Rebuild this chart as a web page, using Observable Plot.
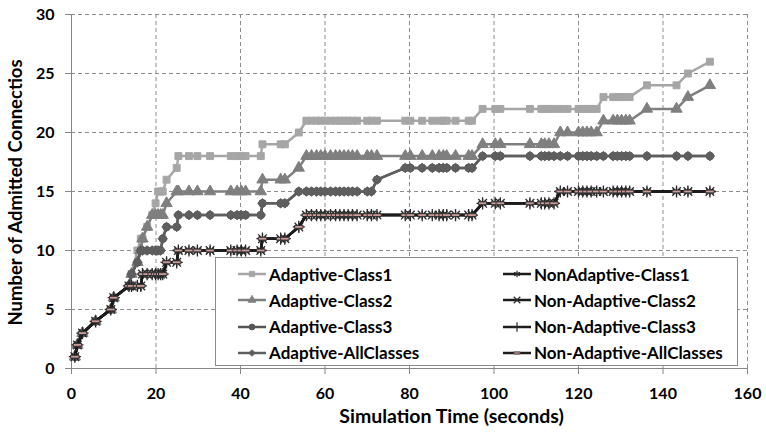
<!DOCTYPE html>
<html><head><meta charset="utf-8">
<script src="https://cdn.jsdelivr.net/npm/d3@7"></script>
<script src="https://cdn.jsdelivr.net/npm/@observablehq/plot@0.6"></script>
<style>
body{margin:0;background:#fff;}
#wrap{position:relative;width:766px;height:437px;font-family:Lato,"Open Sans",sans-serif;}
#legend{position:absolute;left:215px;top:257px;width:523px;height:109px;border:1px solid #8c8c8c;background:#fff;box-sizing:border-box;}
.item{position:absolute;display:flex;align-items:center;height:20px;font-weight:bold;font-size:17px;color:#000;white-space:nowrap;}
.item svg{margin-right:3px;}
</style></head><body><div id="wrap"></div>
<script>
const times = [0.8,1.4,2.6,5.7,9.3,10,13.6,14.2,15.6,16.4,16.8,17.9,19.1,19.9,20.5,21.1,21.6,22.5,24.9,25.3,
  27.8,29.8,32.8,37.7,39.2,40.2,41.2,44.8,45.2,49.5,50.5,53.8,55.6,56.8,58,59,60,61.3,62.5,63.5,64.5,65.5,66.5,67.6,
  70,71,72.3,79,80.2,83,85.4,87,88,88.8,90.9,94,94.8,97.3,100.3,101.5,108.5,111.2,112,113,114.2,115.7,117.4,
  120,121,122,123,124.3,125.9,128.2,129.2,130.2,131.2,132.1,136.2,143.2,145.9,151.1];

const adaptiveClass1 = [1,2,3,4,5,6,7,8,10,11,11,12,13,14,15,15,15,16,17,18,
  18,18,18,18,18,18,18,18,19,19,19,20,21,21,21,21,21,21,21,21,21,21,21,21,
  21,21,21,21,21,21,21,21,21,21,21,21,21,22,22,22,22,22,22,22,22,22,22,
  22,22,22,22,22,23,23,23,23,23,23,24,24,25,26];
const adaptiveClass2 = [1,2,3,4,5,6,7,8,9,10,11,12,13,13,13,13,13,14,15,15,
  15,15,15,15,15,15,15,15,16,16,16,17,18,18,18,18,18,18,18,18,18,18,18,18,
  18,18,18,18,18,18,18,18,18,18,18,18,18,19,19,19,19,19,19,19,19,20,20,
  20,20,20,20,20,21,21,21,21,21,21,22,22,23,24];
const adaptiveClass3 = [1,2,3,4,5,6,7,8,9,10,10,10,10,10,10,10,11,12,12,13,
  13,13,13,13,13,13,13,13,14,14,14,15,15,15,15,15,15,15,15,15,15,15,15,15,
  15,15,16,17,17,17,17,17,17,17,17,17,17,18,18,18,18,18,18,18,18,18,18,
  18,18,18,18,18,18,18,18,18,18,18,18,18,18,18];
const adaptiveAllClasses = [1,2,3,4,5,6,7,8,9,10,10,10,10,10,10,10,11,12,12,13,
  13,13,13,13,13,13,13,13,14,14,14,15,15,15,15,15,15,15,15,15,15,15,15,15,
  15,15,16,17,17,17,17,17,17,17,17,17,17,18,18,18,18,18,18,18,18,18,18,
  18,18,18,18,18,18,18,18,18,18,18,18,18,18,18];
const nonAdaptiveClass1 = [1,2,3,4,5,6,7,7,7,7,8,8,8,8,8,8,8,9,9,10,
  10,10,10,10,10,10,10,10,11,11,11,12,13,13,13,13,13,13,13,13,13,13,13,13,
  13,13,13,13,13,13,13,13,13,13,13,13,13,14,14,14,14,14,14,14,14,15,15,
  15,15,15,15,15,15,15,15,15,15,15,15,15,15,15];
const nonAdaptiveClass2 = [1,2,3,4,5,6,7,7,7,7,8,8,8,8,8,8,8,9,9,10,
  10,10,10,10,10,10,10,10,11,11,11,12,13,13,13,13,13,13,13,13,13,13,13,13,
  13,13,13,13,13,13,13,13,13,13,13,13,13,14,14,14,14,14,14,14,14,15,15,
  15,15,15,15,15,15,15,15,15,15,15,15,15,15,15];
const nonAdaptiveClass3 = [1,2,3,4,5,6,7,7,7,7,8,8,8,8,8,8,8,9,9,10,
  10,10,10,10,10,10,10,10,11,11,11,12,13,13,13,13,13,13,13,13,13,13,13,13,
  13,13,13,13,13,13,13,13,13,13,13,13,13,14,14,14,14,14,14,14,14,15,15,
  15,15,15,15,15,15,15,15,15,15,15,15,15,15,15];
const nonAdaptiveAllClasses = [1,2,3,4,5,6,7,7,7,7,8,8,8,8,8,8,8,9,9,10,
  10,10,10,10,10,10,10,10,11,11,11,12,13,13,13,13,13,13,13,13,13,13,13,13,
  13,13,13,13,13,13,13,13,13,13,13,13,13,14,14,14,14,14,14,14,14,15,15,
  15,15,15,15,15,15,15,15,15,15,15,15,15,15,15];

const seriesNames = ["Adaptive-Class1","Adaptive-Class2","Adaptive-Class3","Adaptive-AllClasses",
  "NonAdaptive-Class1","Non-Adaptive-Class2","Non-Adaptive-Class3","Non-Adaptive-AllClasses"];
const seriesValues = [adaptiveClass1, adaptiveClass2, adaptiveClass3, adaptiveAllClasses,
  nonAdaptiveClass1, nonAdaptiveClass2, nonAdaptiveClass3, nonAdaptiveAllClasses];
const xTicks = [0,20,40,60,80,100,120,140,160];
const yTicks = [0,5,10,15,20,25,30];
const xLabel = "Simulation Time (seconds)";
const yLabel = "Number of Admitted Connectios";

const dashSymbol = {draw(ctx, size){ const s = Math.sqrt(size); const w = s*0.6, h = s*0.2;
  ctx.moveTo(-w,-h); ctx.lineTo(w,-h); ctx.lineTo(w,h); ctx.lineTo(-w,h); ctx.closePath(); }};

const styles = [
  {line:"#a6a6a6", symbol:"square", fill:"#a6a6a6", mstroke:"#a6a6a6", r:3.9, d3sym:d3.symbolSquare},
  {line:"#7f7f7f", symbol:"triangle", fill:"#7f7f7f", mstroke:"#7f7f7f", r:4.2, d3sym:d3.symbolTriangle},
  {line:"#555555", symbol:"circle", fill:"#555555", mstroke:"#555555", r:3.8, d3sym:d3.symbolCircle},
  {line:"#5e5e5e", symbol:"diamond2", fill:"#5e5e5e", mstroke:"#5e5e5e", r:4.3, d3sym:d3.symbolDiamond2},
  {line:"#1c1c1c", symbol:"asterisk", fill:"none", mstroke:"#2a2a2a", r:4, d3sym:d3.symbolAsterisk},
  {line:"#1c1c1c", symbol:"times", fill:"none", mstroke:"#2a2a2a", r:4, d3sym:d3.symbolTimes},
  {line:"#1c1c1c", symbol:"plus", fill:"none", mstroke:"#2a2a2a", r:4, d3sym:d3.symbolPlus},
  {line:"#1c1c1c", symbol:dashSymbol, fill:"#c99a96", mstroke:"#333333", r:4, d3sym:dashSymbol}
];

const marks = [
  Plot.gridY(yTicks.filter(d => d > 0), {stroke:"#8c8c8c", strokeOpacity:1, strokeDasharray:"4,3"}),
  Plot.gridX(xTicks.filter(d => d > 0), {stroke:"#8c8c8c", strokeOpacity:1, strokeDasharray:"4,3"}),
  Plot.ruleY([0], {stroke:"#868686"}),
  Plot.ruleX([0], {stroke:"#868686"})
];
seriesNames.forEach((name, i) => {
  const rows = times.map((t, j) => ({t, v: seriesValues[i][j], series: name}));
  const s = styles[i];
  marks.push(Plot.line(rows, {x:"t", y:"v", stroke:s.line, strokeWidth:2.5}));
  marks.push(Plot.dot(rows, {x:"t", y:"v", symbol:s.symbol, fill:s.fill, stroke:s.mstroke, strokeWidth: s.fill === "none" ? 1.3 : 1, r:s.r}));
});
marks.push(
  Plot.axisX({ticks:xTicks, tickSize:6, tickPadding:13, label:null, stroke:"#868686"}),
  Plot.axisY({ticks:yTicks, tickSize:6, tickPadding:11, label:null, stroke:"#868686"}),
  Plot.text([xLabel], {frameAnchor:"bottom", dy:54, dx:42, fontSize:19.5, fontWeight:"bold"}),
  Plot.text([yLabel], {frameAnchor:"left", textAnchor:"middle", rotate:-90, dx:-55, dy:1, fontSize:18.5, fontWeight:"bold"})
);

const chart = Plot.plot({
  width:766, height:437,
  marginLeft:71, marginRight:19, marginTop:14, marginBottom:69,
  x:{domain:[0,160]},
  y:{domain:[0,30]},
  style:{fontFamily:"Lato, 'Open Sans', sans-serif", fontSize:"16px", fontWeight:"bold", color:"#000", background:"#fff"},
  marks
});
const wrap = document.getElementById("wrap");
wrap.appendChild(chart);

const legend = d3.select(wrap).append("div").attr("id","legend");
seriesNames.forEach((name, i) => {
  const col = i < 4 ? 0 : 1, row = i % 4;
  const s = styles[i];
  const item = legend.append("div").attr("class","item")
    .style("left", (col ? 287 : 22) + "px")
    .style("top", (6 + row * 26.3) + "px");
  const sv = item.append("svg").attr("width", 28).attr("height", 14);
  sv.append("line").attr("x1",0).attr("x2",28).attr("y1",7).attr("y2",7).attr("stroke", s.line).attr("stroke-width", 2.5);
  sv.append("path").attr("transform","translate(14,7)")
    .attr("d", d3.symbol(s.d3sym, s.fill === "none" ? 30 : 28)())
    .attr("fill", s.fill).attr("stroke", s.mstroke).attr("stroke-width", s.fill === "none" ? 1.2 : 0.8);
  item.append("span").text(name);
});
</script></body></html>
